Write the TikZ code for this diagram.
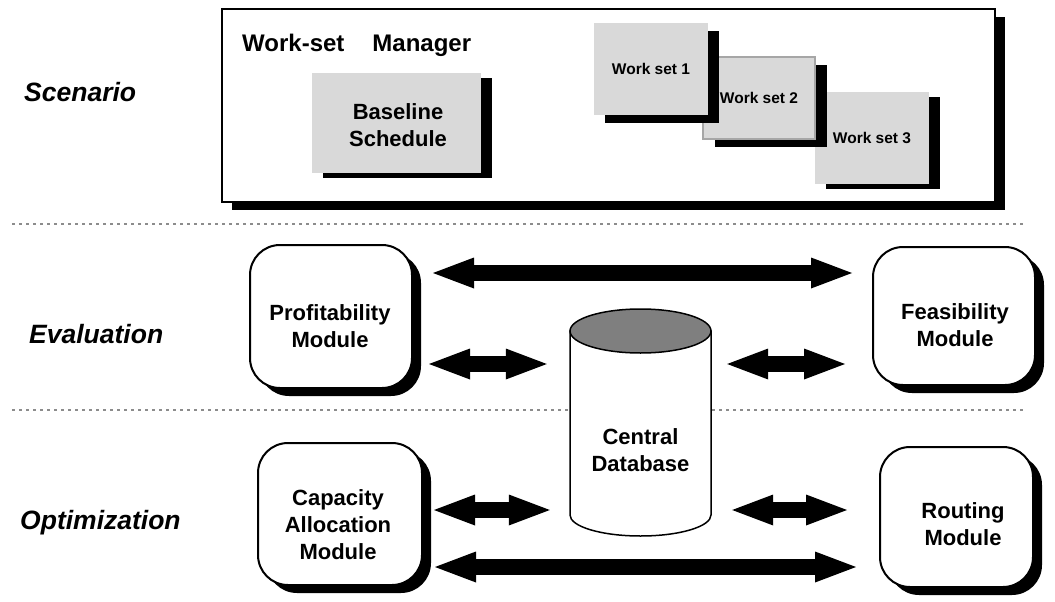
\documentclass[tikz,border=0pt]{standalone}
\usepackage{fontspec}
\setmainfont{Liberation Sans}
\usetikzlibrary{arrows.meta,calc,shadows}

\definecolor{panelgrey}{HTML}{D9D9D9}
\definecolor{edgegrey}{HTML}{A6A6A6}
\definecolor{topgrey}{HTML}{7F7F7F}
\definecolor{dotgrey}{HTML}{8C8C8C}

\begin{document}
\begin{tikzpicture}[x=1pt,y=-1pt,
  blackshadow/.style args={#1/#2}{drop shadow={shadow xshift=#1pt,shadow yshift=-#2pt,fill=black,opacity=1}},
  panel/.style={fill=panelgrey,draw=none,inner sep=0pt},
  module/.style={draw=black,line width=2pt,fill=white,rounded corners=30pt,inner sep=0pt,blackshadow=9/8},
  modtext/.style={font=\bfseries\fontsize{22}{27}\selectfont,align=center,inner sep=0pt},
  wstext/.style={font=\bfseries\fontsize{15.5}{18}\selectfont},
  layer/.style={font=\bfseries\itshape\fontsize{26.5}{30}\selectfont,anchor=base west,inner sep=0pt},
  dotline/.style={draw=dotgrey,line width=1.2pt,dash pattern=on 2.5pt off 4.5pt},
  link/.style={line width=16pt,
    {Triangle[length=41pt,width=31pt,line width=0pt]}-{Triangle[length=41pt,width=31pt,line width=0pt]}}
]
\fill[white] (0,0) rectangle (1055,602);
\useasboundingbox (0,0) rectangle (1055,602);

% layer separators
\draw[dotline] (12,224) -- (1025,224);
\draw[dotline] (12,410) -- (1025,410);

% layer labels
\node[layer] (scen) at (24,101) {Scenario};
\node[layer] (eval) at (29,343) {Evaluation};
\node[layer] (opt) at (20,529) {Optimization};

% work-set manager panel
\node[draw=black,line width=1.5pt,fill=white,minimum width=773,minimum height=193,
      inner sep=0pt,blackshadow=10/8] (mgr) at (608.5,105.5) {};
\node[anchor=base west,inner sep=0pt,font=\bfseries\fontsize{24}{28}\selectfont]
      (mgrtitle) at (242,52) {Work-set\hspace{28pt}Manager};
\node[panel,minimum width=169,minimum height=100,blackshadow=11/5] (base) at (396.5,123) {};
\node[modtext] (basetext) at (398,125) {Baseline\\Schedule};

% stacked work sets (back to front)
\node[panel,wstext,minimum width=114,minimum height=92,blackshadow=11/5] (ws3) at (872,138) {Work set 3};
\node[panel,wstext,draw=edgegrey,line width=1.5pt,minimum width=112,minimum height=82,blackshadow=12/8]
      (ws2) at (759,98) {Work set 2};
\node[panel,wstext,minimum width=114,minimum height=92,blackshadow=11/8] (ws1) at (651,69) {Work set 1};

% modules
\node[module,minimum width=162,minimum height=143] (prof) at (331,316.5) {};
\node[modtext] (proftext) at (330,326) {Profitability\\Module};
\node[module,minimum width=162,minimum height=138] (feas) at (954,316) {};
\node[modtext] (feastext) at (955,325) {Feasibility\\Module};
\node[module,minimum width=164,minimum height=142] (cap) at (340,514) {};
\node[modtext] (captext) at (338,525) {Capacity\\Allocation\\Module};
\node[module,minimum width=153,minimum height=140] (route) at (956.5,517) {};
\node[modtext] (routetext) at (963,524.5) {Routing\\Module};

% central database cylinder
\filldraw[fill=white,line width=1.5pt] (570,331) -- (570,515)
  arc[start angle=180,end angle=0,x radius=70.5,y radius=21] -- (711,331) -- cycle;
\filldraw[fill=topgrey,line width=1.5pt] (640.5,331) ellipse[x radius=70.5,y radius=22];
\node[modtext,minimum width=141] (db) at (640.5,450) {Central\\Database};

% data exchange arrows
\coordinate (yA) at (0,273);
\coordinate (yB) at (0,364);
\coordinate (yC) at (0,510);
\coordinate (yD) at (0,567);
\draw[link] ($(prof.east|-yA)+(20,0)$) -- ($(feas.west|-yA)+(-20,0)$);
\draw[link] ($(prof.east|-yB)+(16,0)$) -- ($(db.west|-yB)+(-23,0)$);
\draw[link] ($(db.east|-yB)+(16,0)$) -- ($(feas.west|-yB)+(-27,0)$);
\draw[link] ($(cap.east|-yC)+(11,0)$) -- ($(db.west|-yC)+(-20,0)$);
\draw[link] ($(db.east|-yC)+(21,0)$) -- ($(route.west|-yC)+(-32,0)$);
\draw[link] ($(cap.east|-yD)+(12,0)$) -- ($(route.west|-yD)+(-23,0)$);
\end{tikzpicture}
\end{document}
